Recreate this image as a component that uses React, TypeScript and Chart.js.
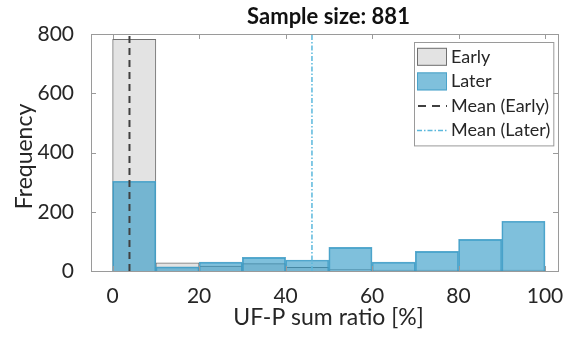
import React, { useEffect, useRef } from 'react';
import { Chart, registerables } from 'chart.js';

Chart.register(...registerables);

const binCenters = [5, 15, 25, 35, 45, 55, 65, 75, 85, 95];
const earlyCounts = [782, 28, 17, 25, 12, 5, 3, 3, 3, 3];
const laterCounts = [303, 14, 30, 46, 37, 80, 30, 66, 107, 168];
const meanEarly = 3.9;
const meanLater = 46.1;
const xTicks = [0, 20, 40, 60, 80, 100];
const yTicks = [0, 200, 400, 600, 800];
const legendLabels = ['Early', 'Later', 'Mean (Early)', 'Mean (Later)'];
const titleText = 'Sample size: 881';
const xTitle = 'UF-P sum ratio [%]';
const yTitle = 'Frequency';

const FONT = 'Lato';
const TEXT = '#262626';
const FRAME = '#9a9a9a';
const EARLY_FILL = '#e3e3e3';
const EARLY_EDGE = '#707070';
const LATER_FILL = 'rgba(42,150,197,0.6)';
const LATER_EDGE = 'rgba(70,160,200,0.9)';
const MEAN_EARLY = '#404040';
const MEAN_LATER = '#5bb8dc';

const framePlugin = {
  id: 'frameAndLegend',
  afterDraw(chart: any) {
    const ctx = chart.ctx as CanvasRenderingContext2D;
    const a = chart.chartArea;
    const xs = chart.scales.x;
    const ys = chart.scales.y;
    ctx.save();
    ctx.strokeStyle = FRAME;
    ctx.lineWidth = 1;
    ctx.strokeRect(Math.round(a.left) + 0.5, Math.round(a.top) + 0.5, Math.round(a.right - a.left), Math.round(a.bottom - a.top));
    const tl = 5;
    ctx.beginPath();
    xTicks.forEach((v) => {
      const px = Math.round(xs.getPixelForValue(v)) + 0.5;
      ctx.moveTo(px, a.bottom);
      ctx.lineTo(px, a.bottom - tl);
      ctx.moveTo(px, a.top);
      ctx.lineTo(px, a.top + tl);
    });
    yTicks.forEach((v) => {
      const py = Math.round(ys.getPixelForValue(v)) + 0.5;
      ctx.moveTo(a.left, py);
      ctx.lineTo(a.left + tl, py);
      ctx.moveTo(a.right, py);
      ctx.lineTo(a.right - tl, py);
    });
    ctx.stroke();

    // chart title
    ctx.fillStyle = '#111';
    ctx.font = `bold 22px ${FONT}`;
    ctx.textAlign = 'center';
    ctx.textBaseline = 'middle';
    ctx.fillText(titleText, (a.left + a.right) / 2 + 4, 17);

    // x axis title
    ctx.fillStyle = TEXT;
    ctx.font = `23px ${FONT}`;
    ctx.textAlign = 'center';
    ctx.textBaseline = 'alphabetic';
    ctx.fillText(xTitle, (a.left + a.right) / 2 + 4, 325);

    // y axis title
    ctx.save();
    ctx.translate(25, (a.top + a.bottom) / 2 + 4);
    ctx.rotate(-Math.PI / 2);
    ctx.textAlign = 'center';
    ctx.textBaseline = 'middle';
    ctx.fillText(yTitle, 0, 0);
    ctx.restore();

    // legend
    ctx.font = `18px ${FONT}`;
    const textW = Math.max(...legendLabels.map((t) => ctx.measureText(t).width));
    const icoW = 30;
    const icoH = 18;
    const rowH = 24.6;
    const boxW = 3 + icoW + 4 + textW + 3;
    const boxH = rowH * legendLabels.length + 5;
    const right = a.right - 5;
    const left = Math.round(right - boxW);
    const top = Math.round(a.top + 8);
    ctx.fillStyle = '#fff';
    ctx.fillRect(left, top, boxW, boxH);
    ctx.strokeStyle = FRAME;
    ctx.strokeRect(left + 0.5, top + 0.5, boxW, boxH);
    const ix = left + 3;
    legendLabels.forEach((lab, i) => {
      const cy = top + 2.5 + rowH * (i + 0.5);
      ctx.save();
      if (i === 0 || i === 1) {
        ctx.fillStyle = i === 0 ? EARLY_FILL : LATER_FILL;
        ctx.fillRect(ix, cy - icoH / 2, icoW, icoH);
        ctx.strokeStyle = i === 0 ? EARLY_EDGE : LATER_EDGE;
        ctx.strokeRect(ix + 0.5, cy - icoH / 2 + 0.5, icoW - 1, icoH - 1);
      } else if (i === 2) {
        ctx.strokeStyle = MEAN_EARLY;
        ctx.lineWidth = 2;
        ctx.setLineDash([8, 6]);
        ctx.beginPath();
        ctx.moveTo(ix + 1, cy);
        ctx.lineTo(ix + icoW, cy);
        ctx.stroke();
      } else {
        ctx.strokeStyle = MEAN_LATER;
        ctx.lineWidth = 1.5;
        ctx.setLineDash([5, 2, 1.5, 2]);
        ctx.beginPath();
        ctx.moveTo(ix, cy);
        ctx.lineTo(ix + icoW, cy);
        ctx.stroke();
      }
      ctx.restore();
      ctx.fillStyle = TEXT;
      ctx.textAlign = 'left';
      ctx.textBaseline = 'middle';
      ctx.fillText(lab, ix + icoW + 4, cy);
    });
    ctx.restore();
  },
};

export default function App() {
  const ref = useRef<HTMLCanvasElement | null>(null);
  useEffect(() => {
    document.body.style.margin = '0';
    const canvas = ref.current;
    if (!canvas) return;
    const chart = new Chart(canvas, {
      type: 'bar',
      data: {
        datasets: [
          {
            type: 'line',
            label: 'Mean (Early)',
            data: [{ x: meanEarly, y: 0 }, { x: meanEarly, y: 800 }],
            borderColor: MEAN_EARLY,
            borderWidth: 2,
            borderDash: [7, 5],
            pointRadius: 0,
            order: 0,
          },
          {
            type: 'line',
            label: 'Mean (Later)',
            data: [{ x: meanLater, y: 0 }, { x: meanLater, y: 800 }],
            borderColor: MEAN_LATER,
            borderWidth: 1.5,
            borderDash: [5, 2, 1.5, 2],
            pointRadius: 0,
            order: 0,
          },
          {
            type: 'bar',
            label: 'Later',
            data: binCenters.map((x, i) => ({ x, y: laterCounts[i] })),
            backgroundColor: LATER_FILL,
            borderColor: LATER_EDGE,
            borderWidth: 1,
            grouped: false,
            barPercentage: 1,
            categoryPercentage: 1,
            order: 1,
          },
          {
            type: 'bar',
            label: 'Early',
            data: binCenters.map((x, i) => ({ x, y: earlyCounts[i] })),
            backgroundColor: EARLY_FILL,
            borderColor: EARLY_EDGE,
            borderWidth: 1,
            grouped: false,
            barPercentage: 1,
            categoryPercentage: 1,
            order: 2,
          },
        ] as any,
      },
      options: {
        animation: false,
        responsive: false,
        layout: { padding: { top: 34, right: 5, left: 0, bottom: 0 } },
        plugins: {
          legend: { display: false },
          tooltip: { enabled: false },
          title: { display: false },
        },
        scales: {
          x: {
            type: 'linear',
            min: -5,
            max: 103,
            offset: false,
            grid: { display: false },
            border: { display: false },
            afterBuildTicks: (s: any) => {
              s.ticks = xTicks.map((v) => ({ value: v }));
            },
            afterFit: (s: any) => {
              s.height = 72;
              s.paddingLeft = 0;
              s.paddingRight = 0;
            },
            ticks: {
              font: { family: FONT, size: 21 },
              color: TEXT,
              padding: 5,
              maxRotation: 0,
              autoSkip: false,
            },
            title: { display: false },
          },
          y: {
            type: 'linear',
            min: 0,
            max: 800,
            grid: { display: false },
            border: { display: false },
            afterBuildTicks: (s: any) => {
              s.ticks = yTicks.map((v) => ({ value: v }));
            },
            afterFit: (s: any) => {
              s.width = 91;
              s.paddingTop = 0;
              s.paddingBottom = 0;
            },
            ticks: {
              font: { family: FONT, size: 21 },
              color: TEXT,
              padding: 9,
            },
            title: { display: false },
          },
        },
      } as any,
      plugins: [framePlugin],
    });
    return () => chart.destroy();
  }, []);
  return (
    <div style={{ width: 563, height: 343 }}>
      <canvas ref={ref} width={563} height={343} style={{ display: 'block' }} />
    </div>
  );
}
